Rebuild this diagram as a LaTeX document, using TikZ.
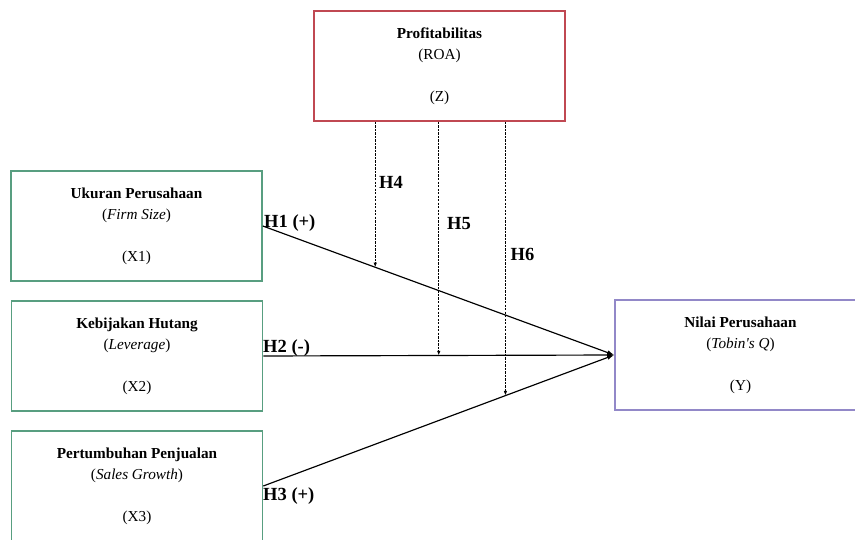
\documentclass[tikz,border=0pt]{standalone}
\usepackage{fontspec}
\setmainfont{Liberation Serif}
\usetikzlibrary{arrows.meta,calc}
\definecolor{redbox}{RGB}{192,72,82}
\definecolor{greenbox}{RGB}{88,158,128}
\definecolor{purplebox}{RGB}{146,136,200}

\begin{document}
\begin{tikzpicture}[>={Latex[length=6pt,width=4pt]},x=0.03cm,y=-0.03cm,
    varbox/.style={draw,line width=1.3pt,minimum width=7.53cm,minimum height=3.3cm,align=center,inner sep=0pt,font=\fontsize{13}{17.9}\selectfont},
    hyp/.style={anchor=base west,inner sep=0pt,font=\fontsize{15.8}{18}\selectfont\bfseries},
    link/.style={->,line width=1pt},
    modlink/.style={-{Latex[length=4pt,width=3pt]},line width=0.9pt,dash pattern=on 2pt off 1pt}]
    \useasboundingbox (0,0) rectangle (855,540);
    \clip (0,0) rectangle (855,540);

    % variables
    \node[varbox,draw=redbox] (z) at (439.5,66) {\textbf{Profitabilitas}\\(ROA)\\[17.9pt](Z)};
    \node[varbox,draw=greenbox] (x1) at (136.5,226) {\textbf{Ukuran Perusahaan}\\(\textit{Firm Size})\\[17.9pt](X1)};
    \node[varbox,draw=greenbox] (x2) at (137,356) {\textbf{Kebijakan Hutang}\\(\textit{Leverage})\\[17.9pt](X2)};
    \node[varbox,draw=greenbox] (x3) at (137,486) {\textbf{Pertumbuhan Penjualan}\\(\textit{Sales Growth})\\[17.9pt](X3)};
    \node[varbox,draw=purplebox] (y) at (740.5,355) {\textbf{Nilai Perusahaan}\\(\textit{Tobin\textquotesingle s Q})\\[17.9pt](Y)};

    % direct effects
    \draw[link] (x1.east) -- (y.west);
    \draw[link] (x2.east) -- (y.west);
    \draw[link] (x3.east) -- (y.west);

    % moderation
    \coordinate (m4) at ($(x1.east)!0.32!(y.west)$);
    \coordinate (m5) at ($(x2.east)!0.5!(y.west)$);
    \coordinate (m6) at ($(x3.east)!0.69!(y.west)$);
    \draw[modlink] (z.south -| m4) -- (m4);
    \draw[modlink] (z.south -| m5) -- (m5);
    \draw[modlink] (z.south -| m6) -- (m6);

    % hypotheses
    \node[hyp] (h1) at (264,227.7) {H1 (+)};
    \node[hyp] (h2) at (263,352.3) {H2 (-)};
    \node[hyp] (h3) at (263,500.7) {H3 (+)};
    \node[hyp] (h4) at (379,188.7) {H4};
    \node[hyp] (h5) at (447,230) {H5};
    \node[hyp] (h6) at (510.5,260.7) {H6};
\end{tikzpicture}
\end{document}
